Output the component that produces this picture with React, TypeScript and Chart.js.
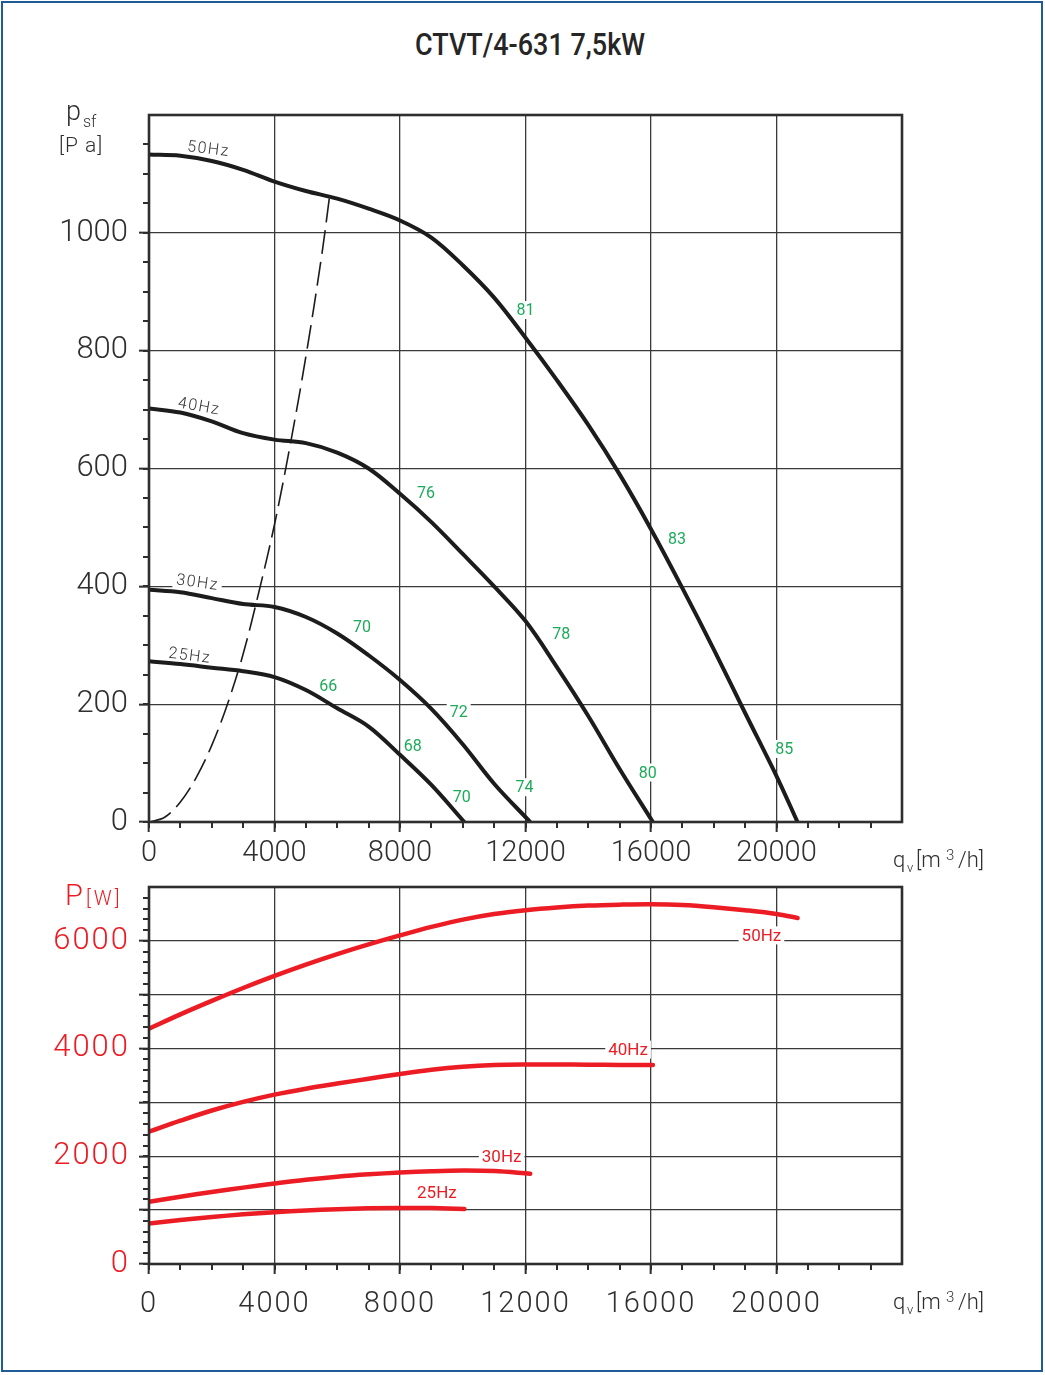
import React, { useEffect, useRef } from 'react';
import Chart from 'chart.js/auto';

// axis labels
const flowTicks = [0, 4000, 8000, 12000, 16000, 20000];
const pressureTicks = [0, 200, 400, 600, 800, 1000];
const powerTicks = [0, 2000, 4000, 6000];

// 50 Hz  (q [m3/h], psf [Pa], P [W])
const flow50 = [0, 1000, 2000, 3000, 4000, 5000, 6000, 7000, 8000, 9000, 10000, 11000, 12000, 13000, 14000, 15000, 16000, 17000, 18000, 19000, 20000, 20670];
const pressure50 = [1133, 1131, 1122, 1107, 1087, 1071, 1058, 1041, 1021, 992, 945, 890, 822, 750, 674, 590, 497, 397, 293, 185, 78, 0];
const power50 = [4370, 4635, 4885, 5125, 5350, 5560, 5755, 5935, 6102, 6260, 6395, 6500, 6570, 6620, 6655, 6672, 6679, 6665, 6625, 6570, 6500, 6424];

// 40 Hz
const flow40 = [0, 1000, 2000, 3000, 4000, 5000, 6000, 7000, 8000, 9000, 10000, 11000, 12000, 13000, 14000, 15000, 16060];
const pressure40 = [702, 695, 680, 660, 649, 643, 627, 600, 557, 509, 455, 400, 341, 263, 180, 90, 0];
const power40 = [2456, 2660, 2850, 3010, 3145, 3255, 3350, 3440, 3527, 3605, 3662, 3695, 3705, 3705, 3700, 3697, 3695];

// 30 Hz
const flow30 = [0, 1000, 2000, 3000, 4000, 5000, 6000, 7000, 8000, 9000, 10000, 11000, 12150];
const pressure30 = [394, 390, 380, 370, 365, 348, 320, 283, 241, 192, 132, 65, 0];
const power30 = [1153, 1250, 1338, 1418, 1495, 1565, 1622, 1665, 1698, 1722, 1735, 1725, 1675];

// 25 Hz
const flow25 = [0, 1000, 2000, 3000, 4000, 5000, 6000, 7000, 8000, 9000, 10050];
const pressure25 = [273, 268, 262, 256, 246, 224, 193, 162, 114, 63, 0];
const power25 = [750, 815, 872, 922, 962, 993, 1018, 1035, 1042, 1038, 1023];

// dashed line (optimum)
const systemFlow = [0, 500, 1000, 1500, 2000, 2500, 3000, 3500, 4000, 4500, 5000, 5500, 5750];
const systemPressure = [0, 8, 34, 75, 130, 200, 285, 390, 505, 640, 790, 960, 1060];

// curve names on pressure chart
const speedNames = ['50Hz', '40Hz', '30Hz', '25Hz'];
const speedNameFlow = [1900, 1600, 1550, 1300];
const speedNamePressure = [1143, 706, 407, 283];
const speedNameAngle = [7, 10, 8, 7];

// sound level marks
const noiseLabels = ['81', '83', '85', '76', '78', '80', '70', '72', '74', '66', '68', '70'];
const noiseFlow = [12000, 16825, 20250, 8825, 13140, 15900, 6790, 9870, 11970, 5715, 8410, 9970];
const noisePressure = [869, 480, 124, 559, 319, 84, 331, 187, 59, 231, 129, 42];

// curve names on power chart
const powerNames = ['50Hz', '40Hz', '30Hz', '25Hz'];
const powerNameFlow = [19520, 15270, 11240, 9175];
const powerNameValue = [6102, 3981, 1991, 1321];

const INK = '#1c1c1c';
const AXIS = '#2e2e2e';
const GRID = '#3a3a3a';
const TEXT = '#2f2f2f';
const RED = '#ec1c24';
const GREEN = '#1dab5a';

type Notes = {
  texts: string[];
  xs: number[];
  ys: number[];
  angles?: number[];
  color: string;
  font: string;
  spacing: string;
};

const notesPlugin = (sets: Notes[]) => ({
  id: 'notes',
  beforeDatasetsDraw(chart: any) {
    const { ctx } = chart;
    const sx = chart.scales.x;
    const sy = chart.scales.y;
    sets.forEach((s) => {
      s.texts.forEach((t, i) => {
        ctx.save();
        ctx.translate(sx.getPixelForValue(s.xs[i]), sy.getPixelForValue(s.ys[i]));
        ctx.rotate(((s.angles ? s.angles[i] : 0) * Math.PI) / 180);
        ctx.font = s.font;
        ctx.letterSpacing = s.spacing;
        const w = ctx.measureText(t).width;
        ctx.fillStyle = '#fff';
        ctx.fillRect(-w / 2 - 3, -9, w + 6, 18);
        ctx.fillStyle = s.color;
        ctx.textAlign = 'center';
        ctx.textBaseline = 'middle';
        ctx.fillText(t, 0, 1);
        ctx.restore();
      });
    });
  },
});

// frame + small ticks
const framePlugin = (xMinor: number, yMinor: number, spacing: string) => ({
  id: 'frame',
  beforeDraw(chart: any) {
    chart.ctx.letterSpacing = spacing;
  },
  afterDraw(chart: any) {
    const { ctx, chartArea } = chart;
    const sx = chart.scales.x;
    const sy = chart.scales.y;
    ctx.save();
    ctx.letterSpacing = '0px';
    ctx.strokeStyle = AXIS;
    ctx.lineWidth = 2;
    ctx.beginPath();
    for (let v = sx.min; v < sx.max; v += xMinor) {
      const px = Math.round(sx.getPixelForValue(v));
      ctx.moveTo(px, chartArea.bottom);
      ctx.lineTo(px, chartArea.bottom + 6);
    }
    for (let v = sy.min; v < sy.max; v += yMinor) {
      const py = Math.round(sy.getPixelForValue(v));
      ctx.moveTo(chartArea.left, py);
      ctx.lineTo(chartArea.left - 6, py);
    }
    ctx.stroke();
    ctx.lineWidth = 2.6;
    ctx.strokeRect(chartArea.left, chartArea.top, chartArea.right - chartArea.left, chartArea.bottom - chartArea.top);
    ctx.restore();
  },
});

const curve = (xs: number[], ys: number[], color: string, width: number) => ({
  data: xs.map((x, i) => ({ x, y: ys[i] })),
  borderColor: color,
  borderWidth: width,
  pointRadius: 0,
  fill: false,
  tension: 0.35,
  borderCapStyle: 'round' as const,
});

const gridOptions = (max: number) => ({
  color: GRID,
  lineWidth: 1.3,
  tickLength: 10,
  tickWidth: 2,
  tickColor: (c: any) => (c.tick && c.tick.value === max ? 'rgba(0,0,0,0)' : AXIS),
});

const flowAxis = (height: number, padding: number) => ({
  type: 'linear' as const,
  min: 0,
  max: 24000,
  afterFit: (s: any) => {
    s.height = height;
  },
  border: { display: false },
  grid: gridOptions(24000),
  ticks: {
    stepSize: 4000,
    autoSkip: false,
    maxRotation: 0,
    padding,
    color: TEXT,
    font: { family: 'Roboto', size: 29, weight: '300' as any },
    callback: (v: any) => (flowTicks.includes(v) ? String(v) : ''),
  },
});

const Txt: React.FC<{
  x: number;
  base: number;
  size: number;
  color?: string;
  weight?: number;
  spacing?: number;
  children: React.ReactNode;
}> = ({ x, base, size, color = TEXT, weight = 300, spacing = 0, children }) => (
  <span
    style={{
      position: 'absolute',
      left: x,
      top: base - 0.8415 * size,
      fontFamily: 'Roboto',
      fontSize: size,
      lineHeight: `${size}px`,
      fontWeight: weight,
      letterSpacing: spacing,
      color,
      whiteSpace: 'nowrap',
    }}
  >
    {children}
  </span>
);

const FlowTitle: React.FC<{ base: number }> = ({ base }) => (
  <>
    <Txt x={893} base={base} size={22}>q</Txt>
    <Txt x={907} base={base + 4} size={13}>v</Txt>
    <Txt x={916} base={base} size={22}>[m</Txt>
    <Txt x={946} base={base - 7} size={15}>3</Txt>
    <Txt x={958} base={base} size={22}>/h]</Txt>
  </>
);

const App: React.FC = () => {
  const pressureRef = useRef<HTMLCanvasElement>(null);
  const powerRef = useRef<HTMLCanvasElement>(null);

  useEffect(() => {
    document.body.style.margin = '0';
    document.body.style.overflow = 'hidden';
    if (!pressureRef.current || !powerRef.current) return;

    const pressureChart = new Chart(pressureRef.current, {
      type: 'line',
      data: {
        datasets: [
          curve(flow50, pressure50, INK, 4),
          curve(flow40, pressure40, INK, 4),
          curve(flow30, pressure30, INK, 4),
          curve(flow25, pressure25, INK, 4),
          { ...curve(systemFlow, systemPressure, INK, 1.6), borderDash: [24, 8], borderCapStyle: 'butt' as const },
        ],
      },
      options: {
        animation: false,
        responsive: true,
        maintainAspectRatio: false,
        events: [],
        layout: { padding: { top: 113, right: 143, left: 0, bottom: 0 } },
        plugins: { legend: { display: false }, tooltip: { enabled: false } },
        scales: {
          x: flowAxis(60, 4),
          y: {
            type: 'linear',
            min: 0,
            max: 1200,
            afterFit: (s: any) => {
              s.width = 149;
            },
            border: { display: false },
            grid: gridOptions(1200),
            ticks: {
              stepSize: 200,
              padding: 11,
              color: TEXT,
              font: { family: 'Roboto', size: 31, weight: '300' as any },
              callback: (v: any) => (pressureTicks.includes(v) ? String(v) : ''),
            },
          },
        },
      },
      plugins: [
        notesPlugin([
          {
            texts: speedNames,
            xs: speedNameFlow,
            ys: speedNamePressure,
            angles: speedNameAngle,
            color: TEXT,
            font: '300 16px Roboto',
            spacing: '1.5px',
          },
          {
            texts: noiseLabels,
            xs: noiseFlow,
            ys: noisePressure,
            color: GREEN,
            font: '400 16px Roboto',
            spacing: '0px',
          },
        ]),
        framePlugin(1000, 50, '0px'),
      ],
    });

    const powerChart = new Chart(powerRef.current, {
      type: 'line',
      data: {
        datasets: [
          curve(flow50, power50, RED, 4.5),
          curve(flow40, power40, RED, 4.5),
          curve(flow30, power30, RED, 4.5),
          curve(flow25, power25, RED, 4.5),
        ],
      },
      options: {
        animation: false,
        responsive: true,
        maintainAspectRatio: false,
        events: [],
        layout: { padding: { top: 40, right: 143, left: 0, bottom: 0 } },
        plugins: { legend: { display: false }, tooltip: { enabled: false } },
        scales: {
          x: flowAxis(111, 13),
          y: {
            type: 'linear',
            min: 0,
            max: 7000,
            afterFit: (s: any) => {
              s.width = 149;
            },
            border: { display: false },
            grid: gridOptions(7000),
            ticks: {
              stepSize: 1000,
              padding: 9,
              color: RED,
              font: { family: 'Roboto', size: 31, weight: '300' as any },
              callback: (v: any) => (powerTicks.includes(v) ? String(v) : ''),
            },
          },
        },
      },
      plugins: [
        notesPlugin([
          {
            texts: powerNames,
            xs: powerNameFlow,
            ys: powerNameValue,
            color: RED,
            font: '400 17px Roboto',
            spacing: '0px',
          },
        ]),
        framePlugin(1000, 200, '2px'),
      ],
    });

    return () => {
      pressureChart.destroy();
      powerChart.destroy();
    };
  }, []);

  return (
    <div style={{ position: 'absolute', left: 0, top: 0, width: 1045, height: 1375, background: '#fff', overflow: 'hidden' }}>
      <div
        style={{
          position: 'absolute',
          left: 1,
          top: 1,
          width: 1042,
          height: 1371,
          boxSizing: 'border-box',
          border: '2px solid #1f5b98',
        }}
      />
      <div
        style={{
          position: 'absolute',
          left: 0,
          top: 55 - 0.8415 * 31,
          width: 1060,
          textAlign: 'center',
          fontFamily: 'Roboto',
          fontSize: 31,
          lineHeight: '31px',
          fontWeight: 500,
          color: '#262626',
          transform: 'scaleX(0.87)',
          transformOrigin: '530px 0',
        }}
      >
        CTVT/4-631 7,5kW
      </div>
      <div style={{ position: 'absolute', left: 0, top: 2, width: 1045, height: 880 }}>
        <canvas ref={pressureRef} />
      </div>
      <div style={{ position: 'absolute', left: 0, top: 847, width: 1045, height: 528 }}>
        <canvas ref={powerRef} />
      </div>
      <Txt x={66} base={121} size={27}>p</Txt>
      <Txt x={83} base={127} size={16}>sf</Txt>
      <Txt x={59} base={153} size={21} spacing={1}>[P a]</Txt>
      <FlowTitle base={868} />
      <Txt x={65} base={905} size={29} color={RED}>P</Txt>
      <Txt x={86} base={905} size={20} color={RED} spacing={3}>[W]</Txt>
      <FlowTitle base={1310} />
    </div>
  );
};

export default App;
